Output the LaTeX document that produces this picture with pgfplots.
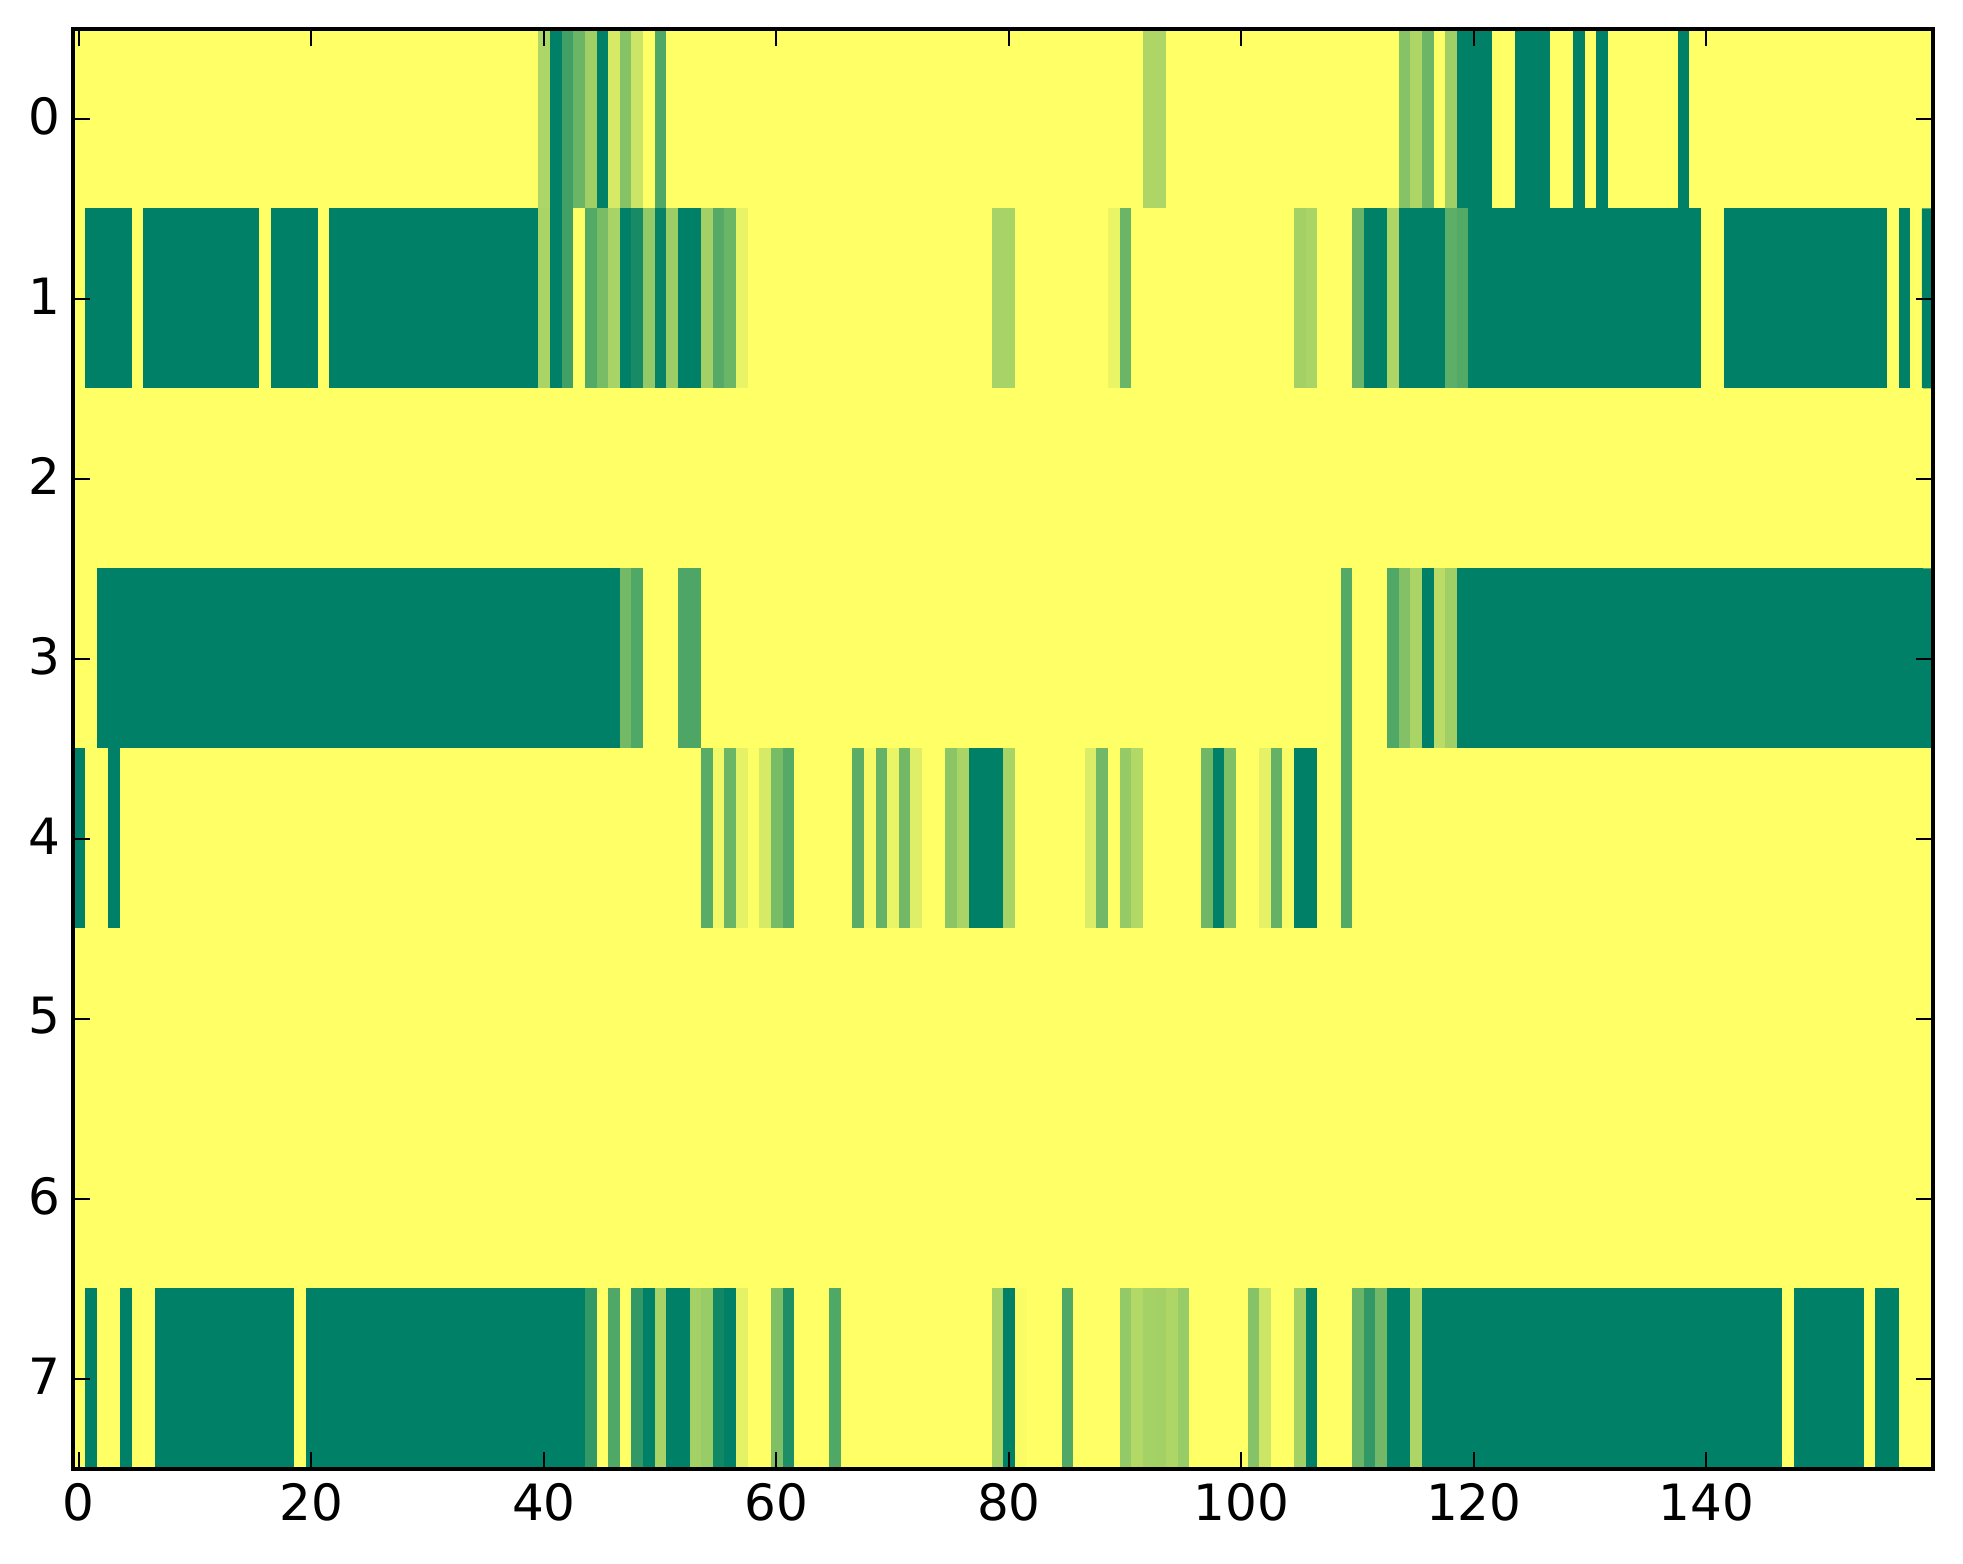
\documentclass[border=0pt]{standalone}
\usepackage{fontspec}
\setmainfont{DejaVu Sans}
\usepackage{pgfplots}
\pgfplotsset{compat=1.18}
\begin{document}
\begin{tikzpicture}
\path[use as bounding box] (-18.25pt,-23.8pt) rectangle (472.5pt,367.2pt);
\begin{axis}[
  at={(0pt,0pt)}, anchor=south west,
  scale only axis, width=465pt, height=359.9pt,
  xmin=-0.5, xmax=159.5, ymin=-0.5, ymax=7.5,
  y dir=reverse, enlargelimits=false, axis on top=true,
  xtick={0,20,40,60,80,100,120,140}, ytick={0,1,2,3,4,5,6,7},
  minor tick num=0, tick align=inside, tick pos=both,
  xticklabel pos=bottom, yticklabel pos=left,
  major tick length=4.17pt,
  tick style={black, line width=0.52pt},
  axis line style={black, line width=1.04pt},
  tick label style={font=\fontsize{12.5pt}{15pt}\selectfont, /pgf/number format/assume math mode=true},
  yticklabel style={yshift=0.75pt, xshift=0.3pt},
  colormap={summerrev}{rgb(0cm)=(1,1,0.4); rgb(1cm)=(0,0.5,0.4)},
  point meta min=0, point meta max=1,
]
\addplot[matrix plot*, mesh/cols=160, mesh/rows=8, point meta=explicit, xshift=0.3pt]
 table[row sep=\\, header=false, meta index=0, x expr={mod(\coordindex,160)}, y expr={floor(\coordindex/160)}] {
0\\0\\0\\0\\0\\0\\0\\0\\0\\0\\0\\0\\0\\0\\0\\0\\0\\0\\0\\0\\
0\\0\\0\\0\\0\\0\\0\\0\\0\\0\\0\\0\\0\\0\\0\\0\\0\\0\\0\\0\\
0.32\\1\\0.74\\0.58\\0.37\\1\\0.16\\0.47\\0.20\\0\\0.68\\0\\0\\0\\0\\0\\0\\0\\0\\0\\
0\\0\\0\\0\\0\\0\\0\\0\\0\\0\\0\\0\\0\\0\\0\\0\\0\\0\\0\\0\\
0\\0\\0\\0\\0\\0\\0\\0\\0\\0\\0\\0\\0.32\\0.32\\0\\0\\0\\0\\0\\0\\
0\\0\\0\\0\\0\\0\\0\\0\\0\\0\\0\\0\\0\\0\\0.47\\0.32\\0.57\\0\\0.37\\1\\
1\\1\\0\\0\\1\\1\\1\\0\\0\\1\\0\\1\\0\\0\\0\\0\\0\\0\\1\\0\\
0\\0\\0\\0\\0\\0\\0\\0\\0\\0\\0\\0\\0\\0\\0\\0\\0\\0\\0\\0\\
0\\1\\1\\1\\1\\0\\1\\1\\1\\1\\1\\1\\1\\1\\1\\1\\0\\1\\1\\1\\
1\\0\\1\\1\\1\\1\\1\\1\\1\\1\\1\\1\\1\\1\\1\\1\\1\\1\\1\\1\\
0.33\\1\\0.74\\0\\0.67\\0.52\\0.34\\1\\0.9\\0.42\\0.97\\0.38\\1\\1\\0.36\\0.66\\0.58\\0.09\\0\\0\\
0\\0\\0\\0\\0\\0\\0\\0\\0\\0\\0\\0\\0\\0\\0\\0\\0\\0\\0\\0.34\\
0.34\\0\\0\\0\\0\\0\\0\\0\\0\\0.08\\0.58\\0\\0\\0\\0\\0\\0\\0\\0\\0\\
0\\0\\0\\0\\0\\0.36\\0.33\\0\\0\\0\\0.58\\1\\1\\0.32\\1\\1\\1\\1\\0.63\\0.67\\
1\\1\\1\\1\\1\\1\\1\\1\\1\\1\\1\\1\\1\\1\\1\\1\\1\\1\\1\\1\\
0\\0\\1\\1\\1\\1\\1\\1\\1\\1\\1\\1\\1\\1\\1\\1\\0\\1\\0\\1\\
0\\0\\0\\0\\0\\0\\0\\0\\0\\0\\0\\0\\0\\0\\0\\0\\0\\0\\0\\0\\
0\\0\\0\\0\\0\\0\\0\\0\\0\\0\\0\\0\\0\\0\\0\\0\\0\\0\\0\\0\\
0\\0\\0\\0\\0\\0\\0\\0\\0\\0\\0\\0\\0\\0\\0\\0\\0\\0\\0\\0\\
0\\0\\0\\0\\0\\0\\0\\0\\0\\0\\0\\0\\0\\0\\0\\0\\0\\0\\0\\0\\
0\\0\\0\\0\\0\\0\\0\\0\\0\\0\\0\\0\\0\\0\\0\\0\\0\\0\\0\\0\\
0\\0\\0\\0\\0\\0\\0\\0\\0\\0\\0\\0\\0\\0\\0\\0\\0\\0\\0\\0\\
0\\0\\0\\0\\0\\0\\0\\0\\0\\0\\0\\0\\0\\0\\0\\0\\0\\0\\0\\0\\
0\\0\\0\\0\\0\\0\\0\\0\\0\\0\\0\\0\\0\\0\\0\\0\\0\\0\\0\\0\\
0\\0\\1\\1\\1\\1\\1\\1\\1\\1\\1\\1\\1\\1\\1\\1\\1\\1\\1\\1\\
1\\1\\1\\1\\1\\1\\1\\1\\1\\1\\1\\1\\1\\1\\1\\1\\1\\1\\1\\1\\
1\\1\\1\\1\\1\\1\\1\\0.54\\0.68\\0\\0\\0\\0.69\\0.69\\0\\0\\0\\0\\0\\0\\
0\\0\\0\\0\\0\\0\\0\\0\\0\\0\\0\\0\\0\\0\\0\\0\\0\\0\\0\\0\\
0\\0\\0\\0\\0\\0\\0\\0\\0\\0\\0\\0\\0\\0\\0\\0\\0\\0\\0\\0\\
0\\0\\0\\0\\0\\0\\0\\0\\0\\0.67\\0\\0\\0\\0.68\\0.48\\0.33\\1\\0.27\\0.37\\1\\
1\\1\\1\\1\\1\\1\\1\\1\\1\\1\\1\\1\\1\\1\\1\\1\\1\\1\\1\\1\\
1\\1\\1\\1\\1\\1\\1\\1\\1\\1\\1\\1\\1\\1\\1\\1\\1\\1\\1\\1\\
1\\0\\0\\1\\0\\0\\0\\0\\0\\0\\0\\0\\0\\0\\0\\0\\0\\0\\0\\0\\
0\\0\\0\\0\\0\\0\\0\\0\\0\\0\\0\\0\\0\\0\\0\\0\\0\\0\\0\\0\\
0\\0\\0\\0\\0\\0\\0\\0\\0\\0\\0\\0\\0\\0\\0.65\\0.05\\0.58\\0.1\\0.01\\0.16\\
0.52\\0.66\\0\\0\\0\\0\\0\\0.64\\0.04\\0.6\\0.08\\0.55\\0.13\\0\\0\\0.45\\0.33\\1\\1\\1\\
0.34\\0\\0\\0\\0\\0\\0\\0.14\\0.55\\0\\0.41\\0.3\\0\\0\\0\\0\\0\\0.56\\1\\0.5\\
0\\0\\0.1\\0.6\\0.03\\1\\1\\0\\0\\0.67\\0\\0\\0\\0\\0\\0\\0\\0\\0\\0\\
0\\0\\0\\0\\0\\0\\0\\0\\0\\0\\0\\0\\0\\0\\0\\0\\0\\0\\0\\0\\
0\\0\\0\\0\\0\\0\\0\\0\\0\\0\\0\\0\\0\\0\\0\\0\\0\\0\\0\\0\\
0\\0\\0\\0\\0\\0\\0\\0\\0\\0\\0\\0\\0\\0\\0\\0\\0\\0\\0\\0\\
0\\0\\0\\0\\0\\0\\0\\0\\0\\0\\0\\0\\0\\0\\0\\0\\0\\0\\0\\0\\
0\\0\\0\\0\\0\\0\\0\\0\\0\\0\\0\\0\\0\\0\\0\\0\\0\\0\\0\\0\\
0\\0\\0\\0\\0\\0\\0\\0\\0\\0\\0\\0\\0\\0\\0\\0\\0\\0\\0\\0\\
0\\0\\0\\0\\0\\0\\0\\0\\0\\0\\0\\0\\0\\0\\0\\0\\0\\0\\0\\0\\
0\\0\\0\\0\\0\\0\\0\\0\\0\\0\\0\\0\\0\\0\\0\\0\\0\\0\\0\\0\\
0\\0\\0\\0\\0\\0\\0\\0\\0\\0\\0\\0\\0\\0\\0\\0\\0\\0\\0\\0\\
0\\0\\0\\0\\0\\0\\0\\0\\0\\0\\0\\0\\0\\0\\0\\0\\0\\0\\0\\0\\
0\\0\\0\\0\\0\\0\\0\\0\\0\\0\\0\\0\\0\\0\\0\\0\\0\\0\\0\\0\\
0\\0\\0\\0\\0\\0\\0\\0\\0\\0\\0\\0\\0\\0\\0\\0\\0\\0\\0\\0\\
0\\0\\0\\0\\0\\0\\0\\0\\0\\0\\0\\0\\0\\0\\0\\0\\0\\0\\0\\0\\
0\\0\\0\\0\\0\\0\\0\\0\\0\\0\\0\\0\\0\\0\\0\\0\\0\\0\\0\\0\\
0\\0\\0\\0\\0\\0\\0\\0\\0\\0\\0\\0\\0\\0\\0\\0\\0\\0\\0\\0\\
0\\0\\0\\0\\0\\0\\0\\0\\0\\0\\0\\0\\0\\0\\0\\0\\0\\0\\0\\0\\
0\\0\\0\\0\\0\\0\\0\\0\\0\\0\\0\\0\\0\\0\\0\\0\\0\\0\\0\\0\\
0\\0\\0\\0\\0\\0\\0\\0\\0\\0\\0\\0\\0\\0\\0\\0\\0\\0\\0\\0\\
0\\1\\0\\0\\1\\0\\0\\1\\1\\1\\1\\1\\1\\1\\1\\1\\1\\1\\1\\0\\
1\\1\\1\\1\\1\\1\\1\\1\\1\\1\\1\\1\\1\\1\\1\\1\\1\\1\\1\\1\\
1\\1\\1\\1\\0.8\\0\\0.68\\0\\0.8\\1\\0.34\\1\\1\\0.36\\0.4\\0.93\\1\\0.1\\0\\0\\
0.5\\0.88\\0\\0\\0\\0.68\\0\\0\\0\\0\\0\\0\\0\\0\\0\\0\\0\\0\\0\\0.35\\
1\\0.02\\0\\0\\0\\0.68\\0\\0\\0\\0\\0.42\\0.3\\0.35\\0.36\\0.32\\0.4\\0\\0\\0\\0\\
0\\0.47\\0.2\\0\\0\\0.36\\1\\0\\0\\0\\0.58\\0.8\\0.55\\1\\1\\0.32\\1\\1\\1\\1\\
1\\1\\1\\1\\1\\1\\1\\1\\1\\1\\1\\1\\1\\1\\1\\1\\1\\1\\1\\1\\
1\\1\\1\\1\\1\\1\\1\\0\\1\\1\\1\\1\\1\\1\\0\\1\\1\\0\\0\\0\\
};
\end{axis}
\end{tikzpicture}
\end{document}
